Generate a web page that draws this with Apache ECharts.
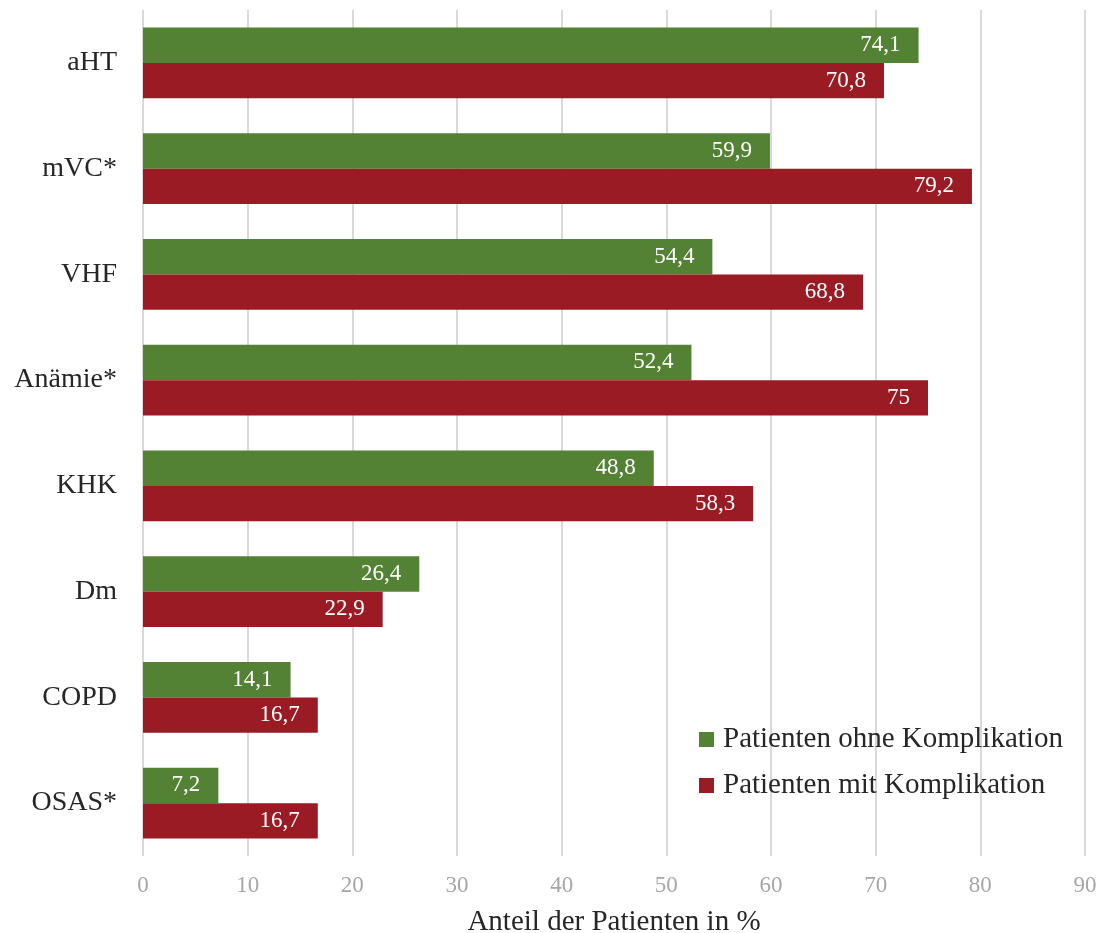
<!DOCTYPE html>
<html><head><meta charset="utf-8">
<script src="https://cdn.jsdelivr.net/npm/echarts@6/dist/echarts.min.js"></script>
<style>html,body{margin:0;padding:0;background:#fff}#c{width:1104px;height:933px}</style>
</head><body><div id="c"></div>
<script>
const categories = ['aHT','mVC*','VHF','Anämie*','KHK','Dm','COPD','OSAS*'];
const ohneKomplikation = [74.1, 59.9, 54.4, 52.4, 48.8, 26.4, 14.1, 7.2];
const mitKomplikation = [70.8, 79.2, 68.8, 75, 58.3, 22.9, 16.7, 16.7];
const seriesNames = ['Patienten ohne Komplikation','Patienten mit Komplikation'];
const axisName = 'Anteil der Patienten in %';
const FONT = '"Liberation Serif", "Times New Roman", serif';
const fmt = p => String(p.value).replace('.', ',');
const labelCfg = {show:true, position:'insideRight', distance:18, color:'#fff', fontFamily:FONT, fontSize:23, formatter:fmt};
const chart = echarts.init(document.getElementById('c'));
chart.setOption({
  animation:false,
  textStyle:{fontFamily:FONT},
  grid:{left:143, right:19, top:10, bottom:77, containLabel:false, outerBoundsMode:'none'},
  legend:{orient:'vertical', left:694, top:720, itemWidth:15, itemHeight:15, itemGap:17, icon:'rect',
    textStyle:{fontFamily:FONT, fontSize:29, lineHeight:29, color:'#262626', padding:[0,0,0,4]},
    data:seriesNames},
  xAxis:{type:'value', min:0, max:90, interval:10,
    name:axisName, nameLocation:'middle', nameGap:52,
    nameTextStyle:{fontFamily:FONT, fontSize:29, color:'#262626'},
    axisLine:{show:false}, axisTick:{show:false},
    axisLabel:{fontFamily:FONT, fontSize:23, color:'#a6a6a6', margin:18},
    splitLine:{show:true, lineStyle:{color:'#d9d9d9', width:2}}},
  yAxis:{type:'category', data:categories, inverse:true,
    axisLine:{show:false}, axisTick:{show:false},
    axisLabel:{fontFamily:FONT, fontSize:28, color:'#262626', margin:26}},
  series:[
    {name:seriesNames[0], type:'bar', data:ohneKomplikation, itemStyle:{color:'#548235'}, barCategoryGap:'33%', barGap:'0%', label:labelCfg},
    {name:seriesNames[1], type:'bar', data:mitKomplikation, itemStyle:{color:'#9a1b23'}, barCategoryGap:'33%', barGap:'0%', label:labelCfg}
  ]
});
</script></body></html>
